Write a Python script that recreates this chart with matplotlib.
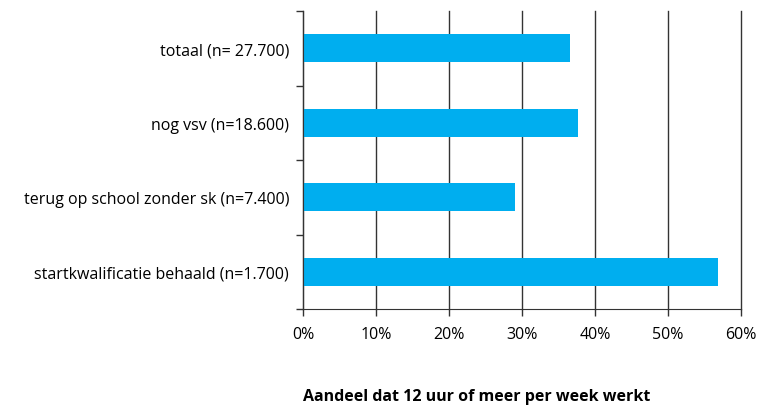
import matplotlib
matplotlib.use('Agg')
import matplotlib.pyplot as plt
from matplotlib.ticker import FixedLocator

plt.rcParams['font.family'] = ['Open Sans', 'DejaVu Sans']

# groepen en aandeel dat 12 uur of meer per week werkt (%)
labels = ['totaal (n= 27.700)', 'nog vsv (n=18.600)',
          'terug op school zonder sk (n=7.400)', 'startkwalificatie behaald (n=1.700)']
values = [36.6, 37.7, 29.0, 56.8]
xticks = [0, 10, 20, 30, 40, 50, 60]
xticklabels = ['0%', '10%', '20%', '30%', '40%', '50%', '60%']

fig = plt.figure(figsize=(7.58, 4.06), dpi=100)
ax = fig.add_axes([303 / 758, 1 - 310 / 406, 438 / 758, 298 / 406])

pos = list(range(len(labels)))[::-1]
ax.barh(pos, values, height=0.38, color='#00AEEF', zorder=3)

ax.set_xlim(0, 60)
ax.set_ylim(-0.5, len(labels) - 0.5)
ax.set_xticks(xticks)
ax.set_xticklabels(xticklabels, fontsize=11.5)
ax.set_yticks(pos)
ax.set_yticklabels(labels, fontsize=11.5)
ax.yaxis.set_minor_locator(FixedLocator([p - 0.5 for p in range(len(labels) + 1)]))
ax.tick_params(axis='y', which='major', length=0, pad=10)
ax.tick_params(axis='y', which='minor', length=5, width=1, color='#333333')
ax.tick_params(axis='x', length=5, width=1, color='#333333', pad=7)

ax.grid(axis='x', color='#333333', linewidth=1, zorder=0)
for gl in ax.get_xgridlines():
    gl.set_clip_on(False)
for s in ['top', 'right']:
    ax.spines[s].set_visible(False)
ax.spines['left'].set_color('#333333')
ax.spines['bottom'].set_color('#333333')
ax.spines['left'].set_zorder(4)

fig.text(303 / 758, 1 - 397 / 406, 'Aandeel dat 12 uur of meer per week werkt',
         fontsize=11.5, fontweight='bold', ha='left', va='center')

fig.savefig('out.png', dpi=100)
